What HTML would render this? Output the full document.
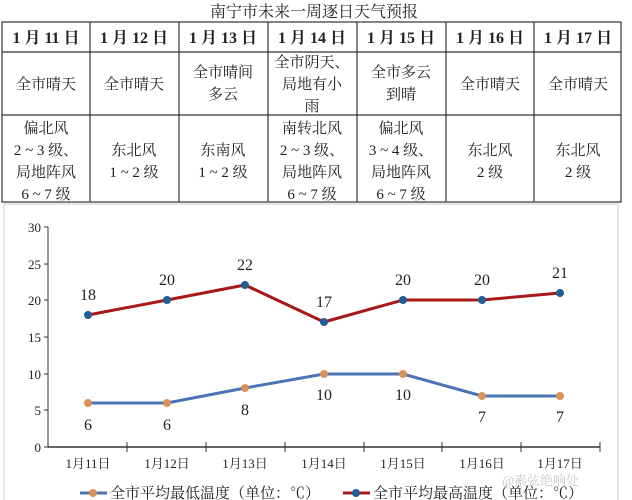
<!DOCTYPE html>
<html><head><meta charset="utf-8"><style>
body{margin:0;background:#fff;}
svg{display:block;}
text{font-family:"Liberation Serif","Noto Serif CJK SC",serif;fill:#222;}
</style></head><body>
<svg width="632" height="500" viewBox="0 0 632 500" xmlns="http://www.w3.org/2000/svg">
<rect width="632" height="500" fill="#fff"/>
<text x="314" y="17" font-size="16" text-anchor="middle">南宁市未来一周逐日天气预报</text>
<g stroke="#333" stroke-width="1.2" fill="none">
<rect x="2" y="22" width="619" height="180"/>
<line x1="2" y1="52" x2="621" y2="52"/>
<line x1="2" y1="115" x2="621" y2="115"/>
<line x1="90" y1="22" x2="90" y2="202"/>
<line x1="179" y1="22" x2="179" y2="202"/>
<line x1="268" y1="22" x2="268" y2="202"/>
<line x1="357" y1="22" x2="357" y2="202"/>
<line x1="446" y1="22" x2="446" y2="202"/>
<line x1="534" y1="22" x2="534" y2="202"/>
</g>
<g font-size="16" font-weight="bold" text-anchor="middle">
<text x="46" y="43">1 月 11 日</text><text x="134" y="43">1 月 12 日</text><text x="223" y="43">1 月 13 日</text><text x="312" y="43">1 月 14 日</text><text x="401" y="43">1 月 15 日</text><text x="490" y="43">1 月 16 日</text><text x="578" y="43">1 月 17 日</text>
</g>
<g font-size="15" text-anchor="middle" style="font-family:'Liberation Serif','Noto Sans CJK SC',sans-serif">
<text x="46" y="89">全市晴天</text><text x="134" y="89">全市晴天</text>
<text x="223" y="77">全市晴间</text><text x="223" y="99">多云</text>
<text x="312" y="67">全市阴天、</text><text x="312" y="89">局地有小</text><text x="312" y="111">雨</text>
<text x="401" y="77">全市多云</text><text x="401" y="99">到晴</text>
<text x="490" y="89">全市晴天</text><text x="578" y="89">全市晴天</text>
<text x="46" y="133">偏北风</text><text x="46" y="155">2 ~ 3 级、</text><text x="46" y="177">局地阵风</text><text x="46" y="199">6 ~ 7 级</text>
<text x="134" y="155">东北风</text><text x="134" y="177">1 ~ 2 级</text>
<text x="223" y="155">东南风</text><text x="223" y="177">1 ~ 2 级</text>
<text x="312" y="133">南转北风</text><text x="312" y="155">2 ~ 3 级、</text><text x="312" y="177">局地阵风</text><text x="312" y="199">6 ~ 7 级</text>
<text x="401" y="133">偏北风</text><text x="401" y="155">3 ~ 4 级、</text><text x="401" y="177">局地阵风</text><text x="401" y="199">6 ~ 7 级</text>
<text x="490" y="155">东北风</text><text x="490" y="177">2 级</text>
<text x="578" y="155">东北风</text><text x="578" y="177">2 级</text>
</g>
<rect x="4" y="204" width="614" height="300" fill="none" stroke="#ccc"/>
<g stroke="#333" stroke-width="1">
<line x1="48" y1="227" x2="48" y2="447"/>
<line x1="48" y1="447" x2="600" y2="447" stroke-width="1.5"/>
<line x1="44" y1="227" x2="48" y2="227"/><line x1="44" y1="264" x2="48" y2="264"/><line x1="44" y1="300" x2="48" y2="300"/><line x1="44" y1="337" x2="48" y2="337"/><line x1="44" y1="374" x2="48" y2="374"/><line x1="44" y1="410" x2="48" y2="410"/><line x1="44" y1="447" x2="48" y2="447"/>
<line x1="127" y1="442" x2="127" y2="452"/><line x1="206" y1="442" x2="206" y2="452"/><line x1="285" y1="442" x2="285" y2="452"/><line x1="364" y1="442" x2="364" y2="452"/><line x1="442" y1="442" x2="442" y2="452"/><line x1="521" y1="442" x2="521" y2="452"/><line x1="600" y1="442" x2="600" y2="452"/>
</g>
<g font-size="13" text-anchor="end">
<text x="41" y="232">30</text><text x="41" y="269">25</text><text x="41" y="305">20</text><text x="41" y="342">15</text><text x="41" y="379">10</text><text x="41" y="415">5</text><text x="41" y="452">0</text>
</g>
<g font-size="13" text-anchor="middle">
<text x="88" y="468">1月11日</text><text x="167" y="468">1月12日</text><text x="245" y="468">1月13日</text><text x="324" y="468">1月14日</text><text x="403" y="468">1月15日</text><text x="482" y="468">1月16日</text><text x="560" y="468">1月17日</text>
</g>
<polyline points="88,315 167,300 245,285 324,322 403,300 482,300 560,293" fill="none" stroke="#a81818" stroke-width="3"/>
<polyline points="88,403 167,403 245,388 324,374 403,374 482,396 560,396" fill="none" stroke="#4a74b4" stroke-width="3"/>
<g fill="#1f5f96">
<circle cx="88" cy="315" r="4"/><circle cx="167" cy="300" r="4"/><circle cx="245" cy="285" r="4"/><circle cx="324" cy="322" r="4"/><circle cx="403" cy="300" r="4"/><circle cx="482" cy="300" r="4"/><circle cx="560" cy="293" r="4"/>
</g>
<g fill="#d9925a">
<circle cx="88" cy="403" r="4"/><circle cx="167" cy="403" r="4"/><circle cx="245" cy="388" r="4"/><circle cx="324" cy="374" r="4"/><circle cx="403" cy="374" r="4"/><circle cx="482" cy="396" r="4"/><circle cx="560" cy="396" r="4"/>
</g>
<g font-size="16" text-anchor="middle">
<text x="88" y="300">18</text><text x="167" y="285">20</text><text x="245" y="270">22</text><text x="324" y="307">17</text><text x="403" y="285">20</text><text x="482" y="285">20</text><text x="560" y="278">21</text>
<text x="88" y="430">6</text><text x="167" y="430">6</text><text x="245" y="415">8</text><text x="324" y="400">10</text><text x="403" y="400">10</text><text x="482" y="422">7</text><text x="560" y="422">7</text>
</g>
<line x1="80" y1="493" x2="107" y2="493" stroke="#4a74b4" stroke-width="3"/>
<circle cx="93" cy="493" r="4" fill="#d9925a"/>
<text x="110" y="498" font-size="15">全市平均最低温度（单位：℃）</text>
<line x1="343" y1="493" x2="370" y2="493" stroke="#a81818" stroke-width="3"/>
<circle cx="356" cy="493" r="4" fill="#1f5f96"/>
<text x="373" y="498" font-size="15">全市平均最高温度（单位：℃）</text>
<text x="502" y="485" font-size="13" fill="#bbb" style="fill:#c8c8c8">@素弦绝响处</text>
</svg>
</body></html>
